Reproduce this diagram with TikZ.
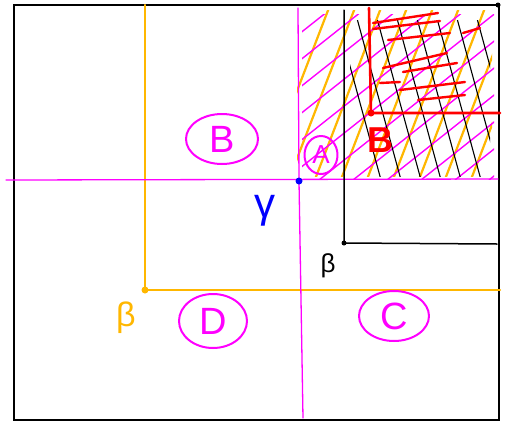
\documentclass[tikz,border=0pt]{standalone}
\usepackage{fontspec}
\setmainfont{Liberation Sans}
\definecolor{sorange}{RGB}{255,183,0}
\definecolor{smag}{RGB}{255,0,255}
\definecolor{sblue}{RGB}{0,0,255}
\definecolor{sred}{RGB}{255,0,0}
\tikzset{
  penline/.style={line width=1.5pt, line cap=round, line join=round},
  circlab/.style={draw=smag, penline, line width=2pt, ellipse, inner sep=0pt, text=smag, font=\fontsize{38}{38}\selectfont},
  plainlab/.style={inner sep=0pt, font=\fontsize{30}{30}\selectfont},
  dotmark/.style={circle, fill, inner sep=0pt, minimum size=7pt}
}
\usetikzlibrary{shapes.geometric}
\begin{document}
\begin{tikzpicture}[x=1pt,y=-1pt]
\useasboundingbox (0,0) rectangle (512,421);
\fill[white] (0,0) rectangle (512,421);
% outer frame
\draw[black, line width=1.8pt] (14,5) rectangle (499,420);
% hatching: orange
\begin{scope}
\clip (297,10) rectangle (492,176);
\foreach \i in {0,...,10} {
  \draw[sorange, penline, line width=2.2pt] ({262+\i*26},182) -- ({262+\i*26+70},0);
}
\end{scope}
% hatching: magenta
\begin{scope}
\clip (302,14) rectangle (494,179);
\foreach \i in {0,...,11} {
  \draw[smag, penline, line width=1.4pt] ({115+\i*34},180) -- ({115+\i*34+227},0);
}
\end{scope}
% hatching: black
\begin{scope}
\clip (350,20) rectangle (490,176);
\foreach \i in {0,...,7} {
  \draw[black, penline, line width=1.1pt] ({332+\i*20},0) -- ({332+\i*20+49},180);
}
\end{scope}
% red scribbles
\begin{scope}[sred, penline, line width=2.4pt]
\draw (373,23) -- (438,13);
\draw (373,29) -- (440,21);
\draw (388,40) -- (450,33);
\draw (463,33) -- (480,28);
\draw (383,68) -- (447,53);
\draw (403,72) -- (457,63);
\draw (380,83) -- (400,82);
\draw (400,90) -- (465,82);
\draw (418,100) -- (465,95);
\end{scope}
% orange corner lines
\coordinate (ob) at (145,290);
\draw[sorange, penline, line width=2.4pt] (145,5) -- (ob) -- (500,290);
\node[dotmark, sorange] (obdot) at (ob) {};
\node[plainlab, text=sorange, font=\fontsize{34}{34}\selectfont] (betaO) at (126,318) {β};
% magenta cross
\coordinate (gc) at (299,181);
\draw[smag, penline, line width=1.3pt] (6,180) -- (498,179);
\draw[smag, penline, line width=1.3pt] (298,8) -- (gc) -- (303,418);
\node[dotmark, sblue] (gdot) at (gc) {};
\node[plainlab, text=sblue, font=\fontsize{42}{42}\selectfont] (gamma) at (265,211) {γ};
% black corner
\coordinate (bc) at (344,243);
\draw[black, penline, line width=1.5pt] (344,10) -- (bc) -- (497,244);
\node[dotmark, black, minimum size=5pt] (bdot) at (bc) {};
\node[plainlab, text=black, font=\fontsize{26}{26}\selectfont] (betaK) at (328,266) {β};
% red corner
\coordinate (rc) at (371,113);
\draw[sred, penline, line width=2.6pt] (369,8) -- (rc) -- (500,113);
\node[dotmark, sred] (rdot) at (rc) {};
\node[plainlab, text=sred, font=\bfseries\fontsize{36}{36}\selectfont] (Bred) at (380,140) {B};
% top-right corner dot
\node[dotmark, black, minimum size=5pt] (trdot) at (498,5) {};
% circled labels
\node[circlab, minimum width=72pt, minimum height=50pt] (B) at (222,139) {B};
\node[circlab, minimum width=33pt, minimum height=38pt, font=\fontsize{26}{26}\selectfont] (A) at (321,155) {A};
\node[circlab, minimum width=68pt, minimum height=54pt] (D) at (213,321) {D};
\node[circlab, minimum width=70pt, minimum height=50pt] (C) at (394,316) {C};
\end{tikzpicture}
\end{document}
